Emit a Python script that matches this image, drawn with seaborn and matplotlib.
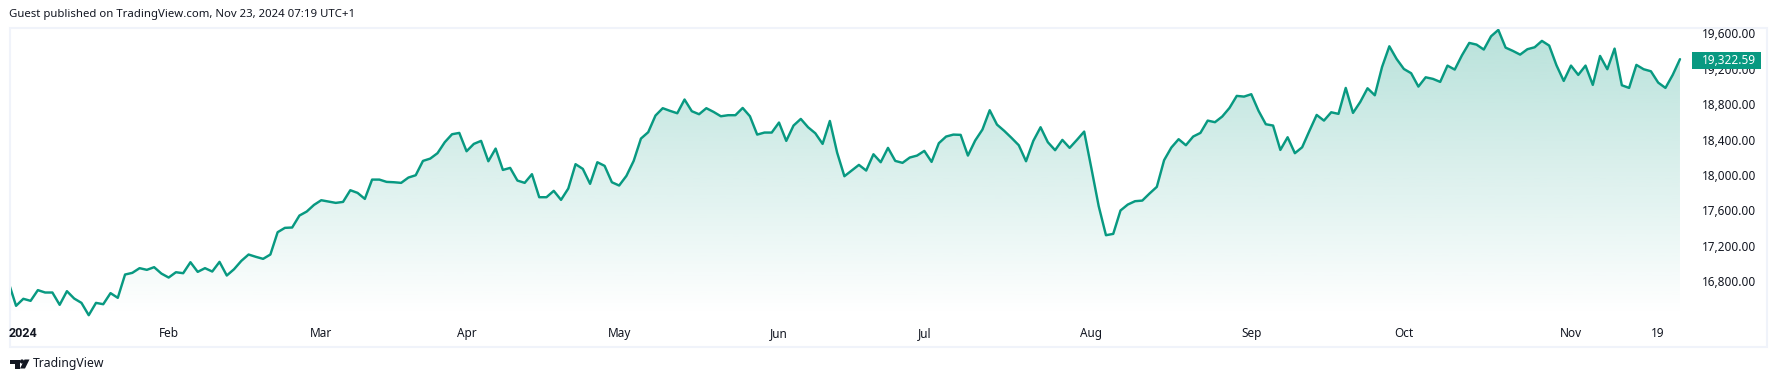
import numpy as np
import pandas as pd
import matplotlib
matplotlib.use("Agg")
import matplotlib.pyplot as plt
from matplotlib.patches import Rectangle, Polygon, Circle
from matplotlib.transforms import ScaledTranslation
import seaborn as sns

prices = [
16794,16538,16617,16594,16715,16688,16688,16549,16703,16620,16571,16432,16571,16556,16681,16628,
16891,16910,16963,16944,16974,16902,16857,16917,16906,17030,16921,16963,16925,17034,16880,16951,
17045,17117,17091,17068,17117,17369,17418,17422,17557,17602,17677,17730,17715,17700,17711,17843,
17813,17745,17963,17963,17937,17933,17926,17986,18012,18174,18200,18261,18385,18475,18490,18283,
18366,18400,18170,18313,18072,18095,17952,17926,18024,17764,17764,17836,17734,17862,18137,18084,
17915,18159,
18118,17933,17896,18005,18174,18426,18498,18686,18769,18739,18712,18867,18735,18701,18769,18727,
18678,18690,18690,18772,18678,18471,18494,18494,18607,18400,18573,18648,18554,18486,18366,18625,
18268,18001,18065,18129,18065,18249,18159,18321,18174,18152,18212,18234,18287,18163,18374,18449,
18471,18468,18234,18404,18528,18746,18584,18513,18434,18351,18170,18400,18554,18385,18295,18411,
18321,18411,18505,18088,17663,17335,17350,17614,17681,17719,17726,17806,17881,18182,18325,18419,
18351,
18449,18490,18629,18611,18675,18772,18908,18900,18927,18739,18588,18573,18298,18441,18261,18328,
18513,18693,18629,18723,18705,18998,18716,18840,18994,18915,19235,19468,19325,19212,19164,19013,
19118,19100,19066,19250,19205,19367,19506,19487,19431,19581,19653,19453,19416,19374,19435,19457,
19529,19476,19254,19077,19250,19145,19250,19032,19359,19209,19442,19028,18998,19258,19209,19186,
19058,18998,19145,19322.59]
session = list(range(len(prices)))
month_labels = ["2024","Feb","Mar","Apr","May","Jun","Jul","Aug","Sep","Oct","Nov","19"]
month_sessions = [2,22,43,63,84,106,126,149,171,192,215,227]
price_ticks = [16800,17200,17600,18000,18400,18800,19200,19600]
last_price = 19322.59
caption = "Guest published on TradingView.com, Nov 23, 2024 07:19 UTC+1"
brand = "TradingView"

GREEN = "#089981"
BORDER = "#f0f3fa"
TEXT = "#131722"
FONT = "Noto Sans"

W, H = 1776, 382
sns.set_theme(style="white")
plt.rcParams["font.family"] = [FONT, "DejaVu Sans"]
fig = plt.figure(figsize=(W/100, H/100), dpi=100, facecolor="white")

# pixel-space overlay for the frame, caption and logo
ov = fig.add_axes([0, 0, 1, 1], zorder=0)
ov.set_xlim(0, W); ov.set_ylim(H, 0); ov.axis("off")
ov.add_patch(Rectangle((9.5, 27.5), 1757, 319, fc="white", ec=BORDER, lw=1.5))
ov.text(9, 14.5, caption, fontsize=8.2, color=TEXT, va="center", ha="left")
ov.text(33, 364, brand, fontsize=8.8, color=TEXT, va="center", ha="left")
ov.add_patch(Polygon([(10,359.5),(19.5,359.5),(19.5,368.5),(14.5,368.5),(14.5,363.5),(10,363.5)], fc=TEXT, ec="none"))
ov.add_patch(Circle((22,361.5), 2.1, fc=TEXT, ec="none"))
ov.add_patch(Polygon([(24.5,359.5),(29.5,359.5),(25,368.5),(20,368.5)], fc=TEXT, ec="none"))

left, right, top, bottom = 10.5, 1691, 28.5, 325
ax = fig.add_axes([left/W, 1-bottom/H, (right-left)/W, (bottom-top)/H], zorder=1)
ax.patch.set_alpha(0)

df = pd.DataFrame({"session": session, "price": prices})
x0 = (left-8.8)/7.266
x1 = (right-8.8)/7.266
ymax = 19600 + (34.6-top)/0.08857
ymin = 19600 - (bottom-34.6)/0.08857

# gradient area under the line
poly = ax.fill_between(df["session"], df["price"], ymin, color="none", lw=0)
grad = np.zeros((256, 1, 4))
grad[..., :3] = matplotlib.colors.to_rgb(GREEN)
grad[:, 0, 3] = np.linspace(0.29, 0.0, 256)
im = ax.imshow(grad, extent=[x0, x1, 16430, 19653], aspect="auto", origin="upper", zorder=1, interpolation="bilinear")
clip_path = poly.get_paths()[0]
im.set_clip_path(clip_path, transform=ax.transData)

sns.lineplot(data=df, x="session", y="price", ax=ax, color=GREEN, lw=1.75, zorder=2,
             solid_joinstyle="round", solid_capstyle="round", errorbar=None)
ax.set_xlim(x0, x1)
ax.set_ylim(ymin, ymax)
ax.set_xlabel(""); ax.set_ylabel("")
for s in ax.spines.values():
    s.set_visible(False)
ax.yaxis.tick_right()
ax.set_yticks(price_ticks)
ax.set_yticklabels([f"{p:,.2f}" for p in price_ticks])
ax.set_xticks(month_sessions)
ax.set_xticklabels(month_labels)
ax.tick_params(axis="both", length=0, labelsize=8.5, colors=TEXT)
ax.tick_params(axis="y", pad=8.0)
ax.tick_params(axis="x", pad=1.2)
first = ax.get_xticklabels()[0]
first.set_fontfamily("Roboto")
first.set_fontweight("bold")
first.set_fontsize(9)
# nudge price labels up slightly
up = ScaledTranslation(0, 1.3/100, fig.dpi_scale_trans)
for lab in ax.get_yticklabels():
    lab.set_transform(lab.get_transform() + up)

# last price tag
ax.annotate(f"{last_price:,.2f}", xy=(1, last_price), xycoords=("axes fraction", "data"),
            xytext=(8.0, -1.0), textcoords="offset points", fontsize=8.5, color="white",
            va="center", ha="left", zorder=5, annotation_clip=False)
ax.add_patch(Rectangle((1692/W, 1-68.7/H), 69/W, 16.7/H, transform=fig.transFigure, fc=GREEN, ec="none",
                       zorder=4, clip_on=False))
fig.savefig("out.png", dpi=100)
